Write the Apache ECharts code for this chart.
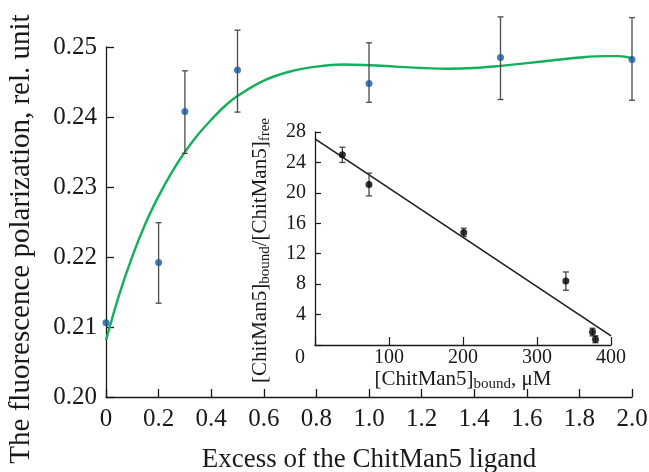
<!DOCTYPE html>
<html>
<head>
<meta charset="utf-8">
<script src="https://cdn.jsdelivr.net/npm/echarts@6/dist/echarts.min.js"></script>
<style>
  html, body { margin: 0; padding: 0; background: #fff; }
  #chart { width: 649px; height: 472px; }
</style>
</head>
<body>
<div id="chart"></div>
<script>
// main plot: polarization vs ligand excess
const ligandExcess = [0, 0.2, 0.3, 0.5, 1.0, 1.5, 2.0];
const polarization = [0.2106, 0.2192, 0.2408, 0.2467, 0.2448, 0.2485, 0.2482];
const polarizationLow = [0.2106, 0.2134, 0.2348, 0.2407, 0.2421, 0.2425, 0.2424];
const polarizationHigh = [0.2106, 0.2249, 0.2466, 0.2524, 0.2506, 0.2543, 0.2542];

// fitted curve
const fitX = [0, 0.05, 0.1, 0.15, 0.2, 0.25, 0.3, 0.35, 0.4, 0.45, 0.5, 0.6, 0.7, 0.8, 0.9, 1.0,
  1.1, 1.2, 1.3, 1.4, 1.5, 1.6, 1.7, 1.8, 1.9, 1.95, 2.0];
const fitY = [0.2081, 0.2146, 0.2201, 0.2248, 0.2287, 0.2321, 0.2350, 0.2375, 0.2396, 0.2415, 0.2430,
  0.2452, 0.2465, 0.2472, 0.2475, 0.2474, 0.2472, 0.2470, 0.2469, 0.2470, 0.2473, 0.2477, 0.2481,
  0.2485, 0.2487, 0.2487, 0.2484];

// inset: Scatchard plot
const boundConc = [37, 73, 201, 339, 375, 379];
const boundFreeRatio = [25.0, 21.1, 14.8, 8.4, 1.7, 0.75];
const ratioErr = [1.0, 1.5, 0.55, 1.2, 0.5, 0.45];
const lineX = [0, 400];
const lineY = [27.1, 1.2];

const xTicksMain = { min: 0, max: 2, interval: 0.2 };
const yTicksMain = { min: 0.2, max: 0.25, interval: 0.01 };

const serif = "'Liberation Serif', 'Times New Roman', serif";
const ink = "#1a1a1a";

function errBar(color, cap) {
  return function (params, api) {
    const x = api.value(0);
    const lo = api.coord([x, api.value(1)]);
    const hi = api.coord([x, api.value(2)]);
    const st = { stroke: color, lineWidth: 1.3 };
    return {
      type: "group",
      children: [
        { type: "line", shape: { x1: lo[0], y1: lo[1], x2: hi[0], y2: hi[1] }, style: st },
        { type: "line", shape: { x1: lo[0] - cap, y1: lo[1], x2: lo[0] + cap, y2: lo[1] }, style: st },
        { type: "line", shape: { x1: hi[0] - cap, y1: hi[1], x2: hi[0] + cap, y2: hi[1] }, style: st }
      ]
    };
  };
}

const mainPts = ligandExcess.map((x, i) => [x, polarization[i]]);
const mainErr = ligandExcess.map((x, i) => [x, polarizationLow[i], polarizationHigh[i]]).slice(1);
const fitPts = fitX.map((x, i) => [x, fitY[i]]);
const insetPts = boundConc.map((x, i) => [x, boundFreeRatio[i]]);
const insetErr = boundConc.map((x, i) => [x, boundFreeRatio[i] - ratioErr[i], boundFreeRatio[i] + ratioErr[i]]);
const insetLine = lineX.map((x, i) => [x, lineY[i]]);

const axisLine = { show: true, lineStyle: { color: ink, width: 1.3 } };

const option = {
  animation: false,
  backgroundColor: "#fff",
  grid: [
    { left: 106, right: 17, top: 47, bottom: 75, outerBoundsMode: "none", containLabel: false },
    { left: 315, right: 38, top: 132, bottom: 127, outerBoundsMode: "none", containLabel: false }
  ],
  xAxis: [
    {
      gridIndex: 0, type: "value", min: xTicksMain.min, max: xTicksMain.max, interval: xTicksMain.interval,
      axisLine: axisLine,
      axisTick: { show: true, inside: true, length: 8, lineStyle: { color: ink, width: 1.3 } },
      splitLine: { show: false },
      axisLabel: {
        color: ink, fontFamily: serif, fontSize: 25, margin: 10,
        formatter: v => (v === 0 ? "0" : v.toFixed(1))
      },
      name: "Excess of the ChitMan5 ligand", nameLocation: "middle", nameGap: 49,
      nameTextStyle: { color: ink, fontFamily: serif, fontSize: 27 }
    },
    {
      gridIndex: 1, type: "value", min: 0, max: 400, interval: 100,
      axisLine: axisLine,
      axisTick: { show: true, inside: true, length: 8, lineStyle: { color: ink, width: 1.2 } },
      splitLine: { show: false },
      axisLabel: {
        color: ink, fontFamily: serif, fontSize: 20, margin: 3,
        formatter: v => (v === 0 ? "{z|0}" : String(v)),
        rich: { z: { fontFamily: serif, fontSize: 20, color: ink, padding: [0, 30, 0, 0] } }
      },
      name: "{t|[ChitMan5]}{s|bound}{t|, μM}", nameLocation: "middle", nameGap: 18,
      nameTextStyle: {
        rich: {
          t: { fontFamily: serif, fontSize: 21, color: ink },
          s: { fontFamily: serif, fontSize: 15, color: ink, padding: [10, 0, 0, 0] }
        }
      }
    }
  ],
  yAxis: [
    {
      gridIndex: 0, type: "value", min: yTicksMain.min, max: yTicksMain.max, interval: yTicksMain.interval,
      axisLine: axisLine,
      axisTick: { show: true, inside: true, length: 8, lineStyle: { color: ink, width: 1.3 } },
      splitLine: { show: false },
      axisLabel: {
        color: ink, fontFamily: serif, fontSize: 25, margin: 9,
        formatter: v => v.toFixed(2)
      },
      name: "The fluorescence polarization, rel. unit", nameLocation: "middle", nameGap: 70,
      nameTextStyle: { color: ink, fontFamily: serif, fontSize: 29, padding: [0, 34, 0, 0] }
    },
    {
      gridIndex: 1, type: "value", min: 0, max: 28, interval: 4,
      axisLine: axisLine,
      axisTick: { show: true, inside: true, length: 6, lineStyle: { color: ink, width: 1.2 } },
      splitLine: { show: false },
      axisLabel: {
        color: ink, fontFamily: serif, fontSize: 20, margin: 9,
        formatter: v => (v === 0 ? "" : String(v))
      },
      name: "{t|[ChitMan5]}{s|bound}{t|/[ChitMan5]}{s|free}", nameLocation: "middle", nameGap: 42,
      nameTextStyle: {
        padding: [0, 24, 0, 0],
        rich: {
          t: { fontFamily: serif, fontSize: 21, color: ink },
          s: { fontFamily: serif, fontSize: 15, color: ink, padding: [10, 0, 0, 0] }
        }
      }
    }
  ],
  series: [
    {
      type: "line", xAxisIndex: 0, yAxisIndex: 0, data: fitPts, smooth: 0.4, showSymbol: false,
      lineStyle: { color: "#12b05a", width: 2.4 }, clip: false, z: 2
    },
    {
      type: "custom", xAxisIndex: 0, yAxisIndex: 0, data: mainErr, renderItem: errBar("#4a4a4a", 3),
      encode: { x: 0, y: [1, 2] }, clip: false, z: 3
    },
    {
      type: "scatter", xAxisIndex: 0, yAxisIndex: 0, data: mainPts, symbolSize: 7,
      itemStyle: { color: "#1a58a0" }, clip: false, z: 4
    },
    {
      type: "line", xAxisIndex: 1, yAxisIndex: 1, data: insetLine, showSymbol: false,
      lineStyle: { color: ink, width: 1.5 }, z: 2
    },
    {
      type: "custom", xAxisIndex: 1, yAxisIndex: 1, data: insetErr, renderItem: errBar("#444", 3),
      encode: { x: 0, y: [1, 2] }, clip: false, z: 3
    },
    {
      type: "scatter", xAxisIndex: 1, yAxisIndex: 1, data: insetPts, symbolSize: 7,
      itemStyle: { color: "#000" }, z: 4
    }
  ]
};

const chart = echarts.init(document.getElementById("chart"), null, { renderer: "canvas" });
chart.setOption(option);
window.addEventListener("resize", () => chart.resize());
</script>
</body>
</html>
